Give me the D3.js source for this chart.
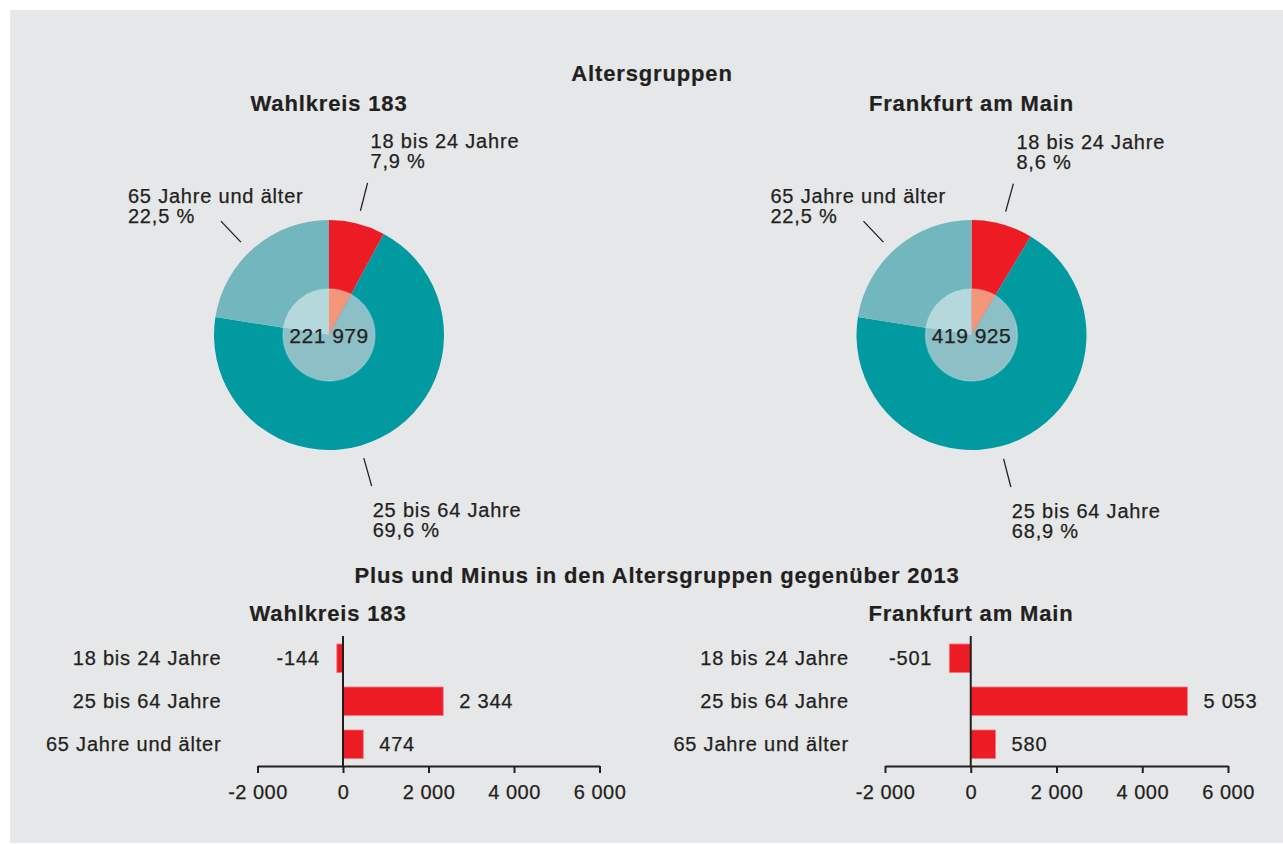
<!DOCTYPE html>
<html lang="de">
<head>
<meta charset="UTF-8">
<title>Altersgruppen</title>
<script src="https://cdn.jsdelivr.net/npm/d3@7"></script>
<style>
  body { margin: 0; background: #fff; }
  svg text { font-family: "Liberation Sans", Arial, sans-serif; fill: #231f20; stroke: #231f20; stroke-width: 0.25px; }
  .t { font-size: 20px; letter-spacing: 0.8px; }
  .h { font-size: 22px; font-weight: bold; letter-spacing: 0.85px; stroke-width: 0.2px; }
  .axis text { font-size: 20px; letter-spacing: 0.5px; fill: #231f20; font-family: "Liberation Sans", Arial, sans-serif; }
  .axis path, .axis line { stroke: #231f20; stroke-width: 2px; }
</style>
</head>
<body>
<div id="chart"></div>
<script>
// Daten
const ageGroups = ["18 bis 24 Jahre", "25 bis 64 Jahre", "65 Jahre und älter"];
const regions = ["Wahlkreis 183", "Frankfurt am Main"];
const shareWahlkreis = [7.9, 69.6, 22.5];
const shareFrankfurt = [8.6, 68.9, 22.5];
const totalVoters = [221979, 419925];
const changeWahlkreis = [-144, 2344, 474];
const changeFrankfurt = [-501, 5053, 580];
const changeTicks = [-2000, 0, 2000, 4000, 6000];

const W = 1283, H = 844;
const outerColors = ["#ed1c24", "#009aa0", "#72b7bd"];
const innerColors = ["#f4967a", "#8dbfc6", "#b5d8dc"];

const loc = d3.formatLocale({ decimal: ",", thousands: " ", grouping: [3], currency: ["", ""], minus: "-" });
const fmtInt = loc.format(",d");
const fmtPct = v => loc.format(".1f")(v) + " %";

const svg = d3.select("#chart").append("svg")
  .attr("width", W).attr("height", H);

svg.append("rect")
  .attr("x", 10).attr("y", 10)
  .attr("width", W - 10).attr("height", H - 11)
  .attr("fill", "#e6e7e9");

// Überschriften
svg.append("text").attr("class", "h").attr("x", 652).attr("y", 81)
  .attr("text-anchor", "middle").text("Altersgruppen");
svg.append("text").attr("class", "h").attr("x", 657).attr("y", 583)
  .attr("text-anchor", "middle").text("Plus und Minus in den Altersgruppen gegenüber 2013");

// --- Kreisdiagramme ---
const pieCx = [329, 971.5];
const pieCy = 335;
const rOuter = 115, rInner = 46;
const leaderR = [128, 157];
const leaderShift = [0, 10.5, -3];          // Grad
const labelOffset = [[3, -35], [1, 31], [-93, -18]];   // Start der ersten Zeile relativ zum Linienende

function drawPie(i, shares) {
  const cx = pieCx[i];
  svg.append("text").attr("class", "h").attr("x", cx).attr("y", 111)
    .attr("text-anchor", "middle").text(regions[i]);

  const g = svg.append("g").attr("transform", `translate(${cx},${pieCy})`);
  const arcs = d3.pie().sort(null).value(d => d)(shares);

  g.selectAll("path.outer").data(arcs).join("path")
    .attr("class", "outer")
    .attr("d", d3.arc().innerRadius(0).outerRadius(rOuter))
    .attr("fill", (d, k) => outerColors[k]);

  g.selectAll("path.inner").data(arcs).join("path")
    .attr("class", "inner")
    .attr("d", d3.arc().innerRadius(0).outerRadius(rInner))
    .attr("fill", (d, k) => innerColors[k]);

  g.append("circle").attr("r", rInner)
    .attr("fill", "none").attr("stroke", "#ffffff").attr("stroke-opacity", 0.25).attr("stroke-width", 1.5);

  g.append("text").attr("class", "t").attr("y", 8).attr("text-anchor", "middle")
    .style("font-size", "21px").style("letter-spacing", "0.5px")
    .text(fmtInt(totalVoters[i]));

  arcs.forEach((d, k) => {
    const a = (d.startAngle + d.endAngle) / 2 + leaderShift[k] * Math.PI / 180;
    const p0 = [leaderR[0] * Math.sin(a), -leaderR[0] * Math.cos(a)];
    const p1 = [leaderR[1] * Math.sin(a), -leaderR[1] * Math.cos(a)];
    g.append("line")
      .attr("x1", p0[0]).attr("y1", p0[1]).attr("x2", p1[0]).attr("y2", p1[1])
      .attr("stroke", "#231f20").attr("stroke-width", 1.3);
    const tx = p1[0] + labelOffset[k][0];
    const ty = p1[1] + labelOffset[k][1];
    const t = g.append("text").attr("class", "t").attr("x", tx).attr("y", ty);
    t.append("tspan").attr("x", tx).text(ageGroups[k]);
    t.append("tspan").attr("x", tx).attr("dy", 20).text(fmtPct(shares[k]));
  });
}

drawPie(0, shareWahlkreis);
drawPie(1, shareFrankfurt);

// --- Balkendiagramme ---
const barRanges = [[257.5, 599.5], [885, 1228]];
const barTitleX = [328, 971];
const axisY = 766;

const y = d3.scaleBand().domain(ageGroups)
  .range([636, 766.5]).paddingInner(0.337).paddingOuter(0.186);

function drawBars(i, values) {
  svg.append("text").attr("class", "h").attr("x", barTitleX[i]).attr("y", 621)
    .attr("text-anchor", "middle").text(regions[i]);

  const x = d3.scaleLinear().domain([changeTicks[0], changeTicks[changeTicks.length - 1]])
    .range(barRanges[i]);
  const g = svg.append("g");

  g.selectAll("rect").data(values).join("rect")
    .attr("x", d => x(Math.min(0, d)))
    .attr("y", (d, k) => y(ageGroups[k]))
    .attr("width", d => Math.abs(x(d) - x(0)))
    .attr("height", y.bandwidth())
    .attr("fill", "#ed1c24")
    .attr("stroke", "#f27a7e").attr("stroke-width", 0.8);

  g.selectAll("text.val").data(values).join("text")
    .attr("class", "t val")
    .attr("x", d => d < 0 ? x(d) - 17 : x(d) + 16)
    .attr("y", (d, k) => y(ageGroups[k]) + y.bandwidth() / 2 + 7)
    .attr("text-anchor", d => d < 0 ? "end" : "start")
    .text(d => fmtInt(d));

  g.selectAll("text.cat").data(ageGroups).join("text")
    .attr("class", "t cat")
    .attr("x", barRanges[i][0] - 36)
    .attr("y", d => y(d) + y.bandwidth() / 2 + 7)
    .attr("text-anchor", "end")
    .text(d => d);

  g.append("line")
    .attr("x1", x(0)).attr("x2", x(0)).attr("y1", 636).attr("y2", axisY)
    .attr("stroke", "#231f20").attr("stroke-width", 2);

  g.append("g").attr("class", "axis")
    .attr("transform", `translate(0,${axisY})`)
    .call(d3.axisBottom(x).tickValues(changeTicks).tickFormat(fmtInt)
      .tickSize(7).tickSizeOuter(0).tickPadding(12))
    .call(a => a.selectAll("text").attr("font-size", null).attr("font-family", null));
}

drawBars(0, changeWahlkreis);
drawBars(1, changeFrankfurt);
</script>
</body>
</html>
